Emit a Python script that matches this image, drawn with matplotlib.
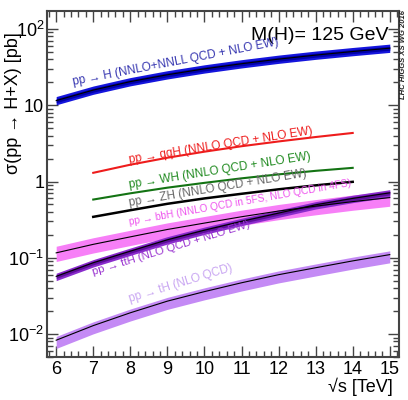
import numpy as np
import matplotlib
matplotlib.use("Agg")
import matplotlib.pyplot as plt
from matplotlib.ticker import FixedLocator, NullFormatter, LogLocator

plt.rcParams['font.family'] = ['Liberation Sans', 'DejaVu Sans']
plt.rcParams['mathtext.fontset'] = 'custom'
plt.rcParams['mathtext.rm'] = 'Liberation Sans'
plt.rcParams['mathtext.it'] = 'Liberation Sans:italic'

# ---------------------------------------------------------- data
sqrt_s = [6, 7, 8, 9, 10, 11, 12, 13, 14, 15]
sqrt_s_vv = [7, 8, 9, 10, 11, 12, 13, 14]

ggh = [11.5, 15.8, 20.4, 25.1, 30.0, 35.0, 40.2, 45.4, 50.6, 56.0]
qqh = [1.30, 1.66, 2.05, 2.46, 2.90, 3.35, 3.83, 4.33]
wh = [0.58, 0.70, 0.83, 0.96, 1.10, 1.24, 1.38, 1.51]
zh = [0.344, 0.42, 0.51, 0.60, 0.69, 0.79, 0.89, 0.99]
bbh = [0.116, 0.150, 0.188, 0.235, 0.285, 0.345, 0.410, 0.475, 0.545, 0.615]
tth = [0.057, 0.086, 0.122, 0.172, 0.230, 0.300, 0.385, 0.495, 0.600, 0.710]
th = [0.0083, 0.0129, 0.019, 0.027, 0.036, 0.047, 0.060, 0.074, 0.091, 0.110]

# relative band widths (up, down)
ggh_unc_out = (0.13, 0.12)
ggh_unc_in = (0.06, 0.06)
bbh_unc = (0.22, 0.23)
tth_unc_out = (0.10, 0.12)
tth_unc_in = (0.05, 0.06)
th_unc = (0.12, 0.22)

# ----------------------------------------------------------
def band(ax, x, y, unc, color, z):
    y = np.array(y)
    ax.fill_between(x, y*(1-unc[1]), y*(1+unc[0]), color=color, lw=0, zorder=z)

def label(ax, x, y, txt, color, rot, fs=8):
    ax.text(x, y, txt, color=color, fontsize=fs, rotation=rot, rotation_mode='anchor',
            ha='left', va='baseline', zorder=6)

fig = plt.figure(figsize=(4.08, 4.0), dpi=100)
ax = fig.add_axes([0.115, 0.1075, 0.863, 0.865])
ax.set_yscale('log')

band(ax, sqrt_s, ggh, ggh_unc_out, '#1515dd', 2)
band(ax, sqrt_s, ggh, ggh_unc_in, '#0000a8', 3)
ax.plot(sqrt_s, ggh, color='black', lw=0.8, zorder=4)

ax.plot(sqrt_s_vv, qqh, color='#ee1c1c', lw=1.5, zorder=4)
ax.plot(sqrt_s_vv, wh, color='#137313', lw=1.5, zorder=4)
ax.plot(sqrt_s_vv, zh, color='black', lw=1.8, zorder=4)

band(ax, sqrt_s, bbh, bbh_unc, '#f77ff7', 2)
ax.plot(sqrt_s, bbh, color='black', lw=0.8, zorder=5)

band(ax, sqrt_s, tth, tth_unc_out, '#8a2ccc', 3)
band(ax, sqrt_s, tth, tth_unc_in, '#5e0f9a', 3)
ax.plot(sqrt_s, tth, color='black', lw=0.8, zorder=5)

band(ax, sqrt_s, th, th_unc, '#c48af5', 2)
ax.plot(sqrt_s, th, color='black', lw=0.8, zorder=5)

# labels along the curves
label(ax, 6.46, 18.2, 'pp → H (NNLO+NNLL QCD + NLO EW)', '#3535b0', 11, 8.5)
label(ax, 7.99, 1.77, 'pp → qqH (NNLO QCD + NLO EW)', '#ee1c1c', 9, 8.5)
label(ax, 7.99, 0.83, 'pp → WH (NNLO QCD + NLO EW)', '#1f8a1f', 9, 8.5)
label(ax, 7.99, 0.47, 'pp → ZH (NNLO QCD + NLO EW)', '#666666', 9.5, 8.5)
label(ax, 7.99, 0.268, 'pp → bbH (NNLO QCD in 5FS, NLO QCD in 4FS)', '#ee55ee', 10, 7.3)
label(ax, 7.0, 0.060, 'pp → ttH (NLO QCD + NLO EW)', '#9a35d0', 17, 8.2)
label(ax, 8.0, 0.0259, 'pp → tH (NLO QCD)', '#c9a6f2', 17, 8.5)

ax.text(0.97, 0.955, 'M(H)= 125 GeV', transform=ax.transAxes, fontsize=14, ha='right', va='top')
fig.text(0.99, 0.975, 'LHC HIGGS XS WG 2016', rotation=90, fontsize=5.5, fontweight='bold',
         style='italic', ha='center', va='top', color='#222222')

ax.set_xlim(5.75, 15.25)
ax.set_ylim(0.005, 172)

ax.set_xticks(range(6, 16))
ax.xaxis.set_minor_locator(FixedLocator(np.arange(5.8, 15.3, 0.2)))
ax.set_yticks([0.01, 0.1, 1, 10, 100])
ax.set_yticklabels([r'$10^{-2}$', r'$10^{-1}$', '1', '10', r'$10^{2}$'])
ax.yaxis.set_minor_locator(LogLocator(base=10, subs=np.arange(2, 10), numticks=20))
ax.yaxis.set_minor_formatter(NullFormatter())

ax.tick_params(which='both', direction='in', top=True, right=True, color='#444444', labelsize=13)
ax.tick_params(which='major', length=8, width=1)
ax.tick_params(which='minor', length=4, width=1)
ax.tick_params(axis='x', pad=3)
ax.tick_params(axis='y', pad=2)
for sp in ax.spines.values():
    sp.set_color('#444444')
    sp.set_linewidth(1.5)

fig.text(0.963, 0.033, '√s [TeV]', fontsize=13, ha='right', va='center')
fig.text(0.032, 0.92, 'σ(pp → H+X) [pb]', fontsize=13, rotation=90, ha='center', va='top')

fig.savefig('out.png', dpi=100)
